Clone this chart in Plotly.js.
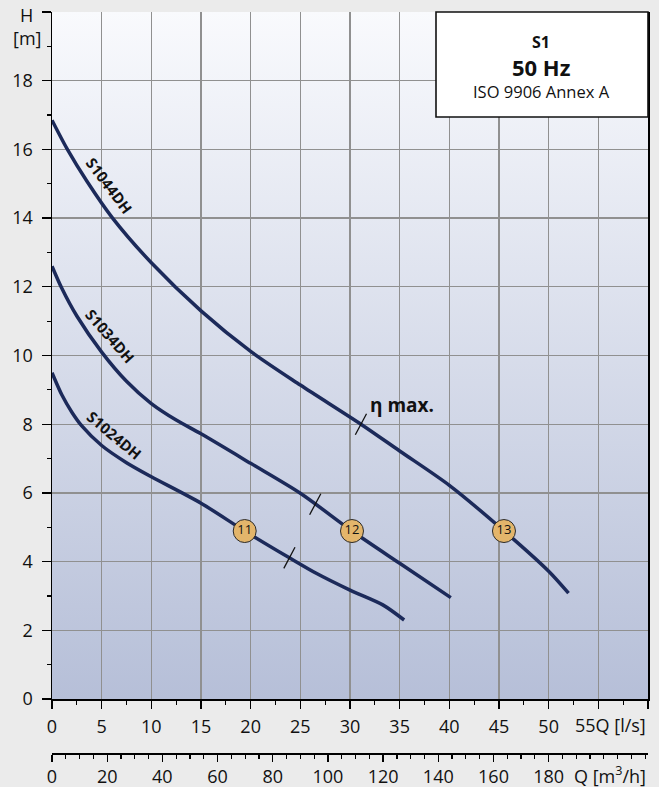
<!DOCTYPE html>
<html>
<head>
<meta charset="utf-8">
<script src="https://cdn.plot.ly/plotly-3.0.1.min.js"></script>
<style>html,body{margin:0;padding:0;background:#ebebeb;}#chart{width:659px;height:787px;}</style>
</head>
<body>
<div id="chart"></div>
<script>
// ---- data ----
const q1044 = [0, 1.55, 3.5, 6.1, 10, 15, 20, 25, 31.1, 35, 40, 45, 50, 52.0];
const h1044 = [16.85, 16.0, 15.08, 14.0, 12.7, 11.3, 10.12, 9.14, 8.0, 7.22, 6.22, 5.02, 3.72, 3.08];

const q1034 = [0, 1, 2.5, 5, 7.5, 10, 12.5, 15, 20, 25, 30.2, 35, 40.15];
const h1034 = [12.6, 11.95, 11.15, 10.1, 9.25, 8.6, 8.12, 7.72, 6.86, 5.99, 4.89, 3.95, 2.95];

const q1024 = [0, 1, 2, 3, 5, 7.5, 10, 15, 19.4, 23.9, 26.6, 30, 33.3, 35.45];
const h1024 = [9.5, 8.85, 8.35, 7.95, 7.38, 6.88, 6.47, 5.7, 4.89, 4.11, 3.66, 3.17, 2.74, 2.3];

const modelNames = ['S1044DH', 'S1034DH', 'S1024DH'];
const labelQ = [5.74, 5.9, 6.27];
const labelH = [14.96, 10.58, 7.69];
const labelAngle = [53, 49, 40];

const etaQ = [31.1, 26.5, 23.9];
const etaH = [8.0, 5.67, 4.11];

const pointQ = [19.4, 30.2, 45.5];
const pointH = [4.89, 4.89, 4.89];
const pointLabels = ['11', '12', '13'];

const qLsTicks = [0, 5, 10, 15, 20, 25, 30, 35, 40, 45, 50, 55, 60];
const qLsLabels = ['0', '5', '10', '15', '20', '25', '30', '35', '40', '45', '50', '', ''];
const qMhTicks = [0, 20, 40, 60, 80, 100, 120, 140, 160, 180];
const hTicks = [0, 2, 4, 6, 8, 10, 12, 14, 16, 18, 20];
const hLabels = ['0', '2', '4', '6', '8', '10', '12', '14', '16', '18', ''];

// ---- rendering ----
const FONT = 'Open Sans, Noto Sans, sans-serif';
const curveColor = '#1c2a5a';

const series = [[q1044, h1044], [q1034, h1034], [q1024, h1024]];
const traces = series.map((s, i) => ({
  x: s[0], y: s[1], type: 'scatter', mode: 'lines', name: modelNames[i],
  line: {color: curveColor, width: 3.5, shape: 'spline', smoothing: 0.8},
  hoverinfo: 'skip', showlegend: false
}));

traces.push({
  x: etaQ, y: etaH, type: 'scatter', mode: 'markers', hoverinfo: 'skip', showlegend: false,
  marker: {symbol: 'line-ns-open', size: 17, angle: 28, color: '#111', line: {color: '#111', width: 1.3}}
});

traces.push({
  x: pointQ, y: pointH, type: 'scatter', mode: 'markers+text', hoverinfo: 'skip', showlegend: false,
  text: pointLabels, textposition: 'middle center',
  textfont: {family: FONT, size: 13, color: '#111'},
  marker: {symbol: 'circle', size: 23, color: '#e3b56b', line: {color: '#2a2a2a', width: 1}}
});

// dummy trace to register the m3/h axis
traces.push({x: [qMhTicks[0]], y: [null], xaxis: 'x2', yaxis: 'y', type: 'scatter', mode: 'markers',
  hoverinfo: 'skip', showlegend: false});

const svg = "<svg xmlns='http://www.w3.org/2000/svg' viewBox='0 0 10 100' width='10' height='100' preserveAspectRatio='none'>" +
  "<defs><linearGradient id='g' x1='0' y1='0' x2='0' y2='1'>" +
  "<stop offset='0' stop-color='#f9fafd'/><stop offset='1' stop-color='#b6bfd8'/>" +
  "</linearGradient></defs><rect x='0' y='0' width='10' height='100' fill='url(#g)'/></svg>";
const bgSrc = 'data:image/svg+xml;charset=utf-8,' + encodeURIComponent(svg);

const PH = 741; // paper height in px (787 - 12 - 34)
const py = (px) => (753 - px) / PH;   // pixel row -> paper y
const pxX = (px) => (px - 52) / 596;  // pixel col -> paper x
const plotBottomFrac = py(699);

const annotations = [];
function ann(o) { annotations.push(Object.assign({showarrow: false, xanchor: 'center', yanchor: 'middle'}, o)); }
modelNames.forEach((n, i) => ann({
  x: labelQ[i], y: labelH[i], xref: 'x', yref: 'y', text: '<b>' + n + '</b>',
  textangle: labelAngle[i], font: {family: FONT, size: 15, color: '#111'}
}));
ann({x: 35.2, y: 8.56, xref: 'x', yref: 'y', text: '<b>η max.</b>', font: {family: FONT, size: 19, color: '#111'}});
ann({x: pxX(26.5), y: py(15), xref: 'paper', yref: 'paper', text: 'H', font: {family: FONT, size: 18, color: '#111'}});
ann({x: pxX(27), y: py(38), xref: 'paper', yref: 'paper', text: '[m]', font: {family: FONT, size: 18, color: '#111'}});
ann({x: 1.0, y: py(725), xref: 'paper', yref: 'paper', xanchor: 'right', text: '55Q [l/s]', font: {family: FONT, size: 18, color: '#111'}});
ann({x: 1.0, y: py(775), xref: 'paper', yref: 'paper', xanchor: 'right', text: 'Q [m<sup>3</sup>/h]', font: {family: FONT, size: 18, color: '#111'}});
ann({x: pxX(541), y: py(42), xref: 'paper', yref: 'paper', text: '<b>S1</b>', font: {family: FONT, size: 16, color: '#111'}});
ann({x: pxX(541), y: py(67), xref: 'paper', yref: 'paper', text: '<b>50 Hz</b>', font: {family: FONT, size: 22, color: '#111'}});
ann({x: pxX(541), y: py(91), xref: 'paper', yref: 'paper', text: 'ISO 9906 Annex A', font: {family: FONT, size: 16.5, color: '#111'}});

const layout = {
  width: 659, height: 787,
  margin: {l: 52, r: 11, t: 12, b: 34, pad: 0},
  paper_bgcolor: '#ebebeb', plot_bgcolor: 'rgba(0,0,0,0)',
  font: {family: FONT, size: 18, color: '#111'},
  showlegend: false,
  xaxis: {
    range: [0, 60], anchor: 'y', tickmode: 'array', tickvals: qLsTicks, ticktext: qLsLabels,
    ticks: 'outside', ticklen: 8, tickwidth: 1.3, tickcolor: '#000', ticklabelstandoff: 3,
    showline: true, linecolor: '#000', linewidth: 1.5, zeroline: false,
    showgrid: true, gridcolor: '#909090', gridwidth: 1.3,
    tickfont: {family: FONT, size: 18, color: '#111'},
    minor: {tickmode: 'linear', tick0: 0, dtick: 2.5, ticks: 'outside', ticklen: 4, tickwidth: 1.2, tickcolor: '#000', showgrid: false},
    fixedrange: true
  },
  xaxis2: {
    range: [0, 216], overlaying: 'x', anchor: 'free', position: 0, side: 'bottom',
    tickmode: 'array', tickvals: qMhTicks,
    ticks: 'outside', ticklen: 7, tickwidth: 1.3, tickcolor: '#000', ticklabelstandoff: 0,
    showline: true, linecolor: '#000', linewidth: 1.5, zeroline: false, showgrid: false,
    tickfont: {family: FONT, size: 18, color: '#111'},
    minor: {tickmode: 'linear', tick0: 0, dtick: 5, ticks: 'outside', ticklen: 4, tickwidth: 1.2, tickcolor: '#000', showgrid: false},
    fixedrange: true
  },
  yaxis: {
    range: [0, 20], domain: [plotBottomFrac, 1], tickmode: 'array', tickvals: hTicks, ticktext: hLabels,
    ticks: 'outside', ticklen: 9, tickwidth: 1.3, tickcolor: '#000', ticklabelstandoff: 5,
    showline: true, mirror: true, linecolor: '#000', linewidth: 1.5, zeroline: false,
    showgrid: true, gridcolor: '#909090', gridwidth: 1.3,
    tickfont: {family: FONT, size: 18, color: '#111'},
    minor: {tickmode: 'linear', tick0: 0, dtick: 1, ticks: 'outside', ticklen: 4, tickwidth: 1.2, tickcolor: '#000', showgrid: false},
    fixedrange: true
  },
  images: [{source: bgSrc, xref: 'paper', yref: 'paper', x: 0, y: 1, sizex: 1, sizey: 1 - plotBottomFrac,
    xanchor: 'left', yanchor: 'top', sizing: 'stretch', layer: 'below'}],
  shapes: [{type: 'rect', xref: 'paper', yref: 'paper', x0: pxX(436), x1: 1.0,
    y0: py(117), y1: 1.0, fillcolor: '#ffffff', line: {color: '#111', width: 1.6}, layer: 'above'}],
  annotations: annotations
};

Plotly.newPlot('chart', traces, layout, {displayModeBar: false, staticPlot: true});
</script>
</body>
</html>
